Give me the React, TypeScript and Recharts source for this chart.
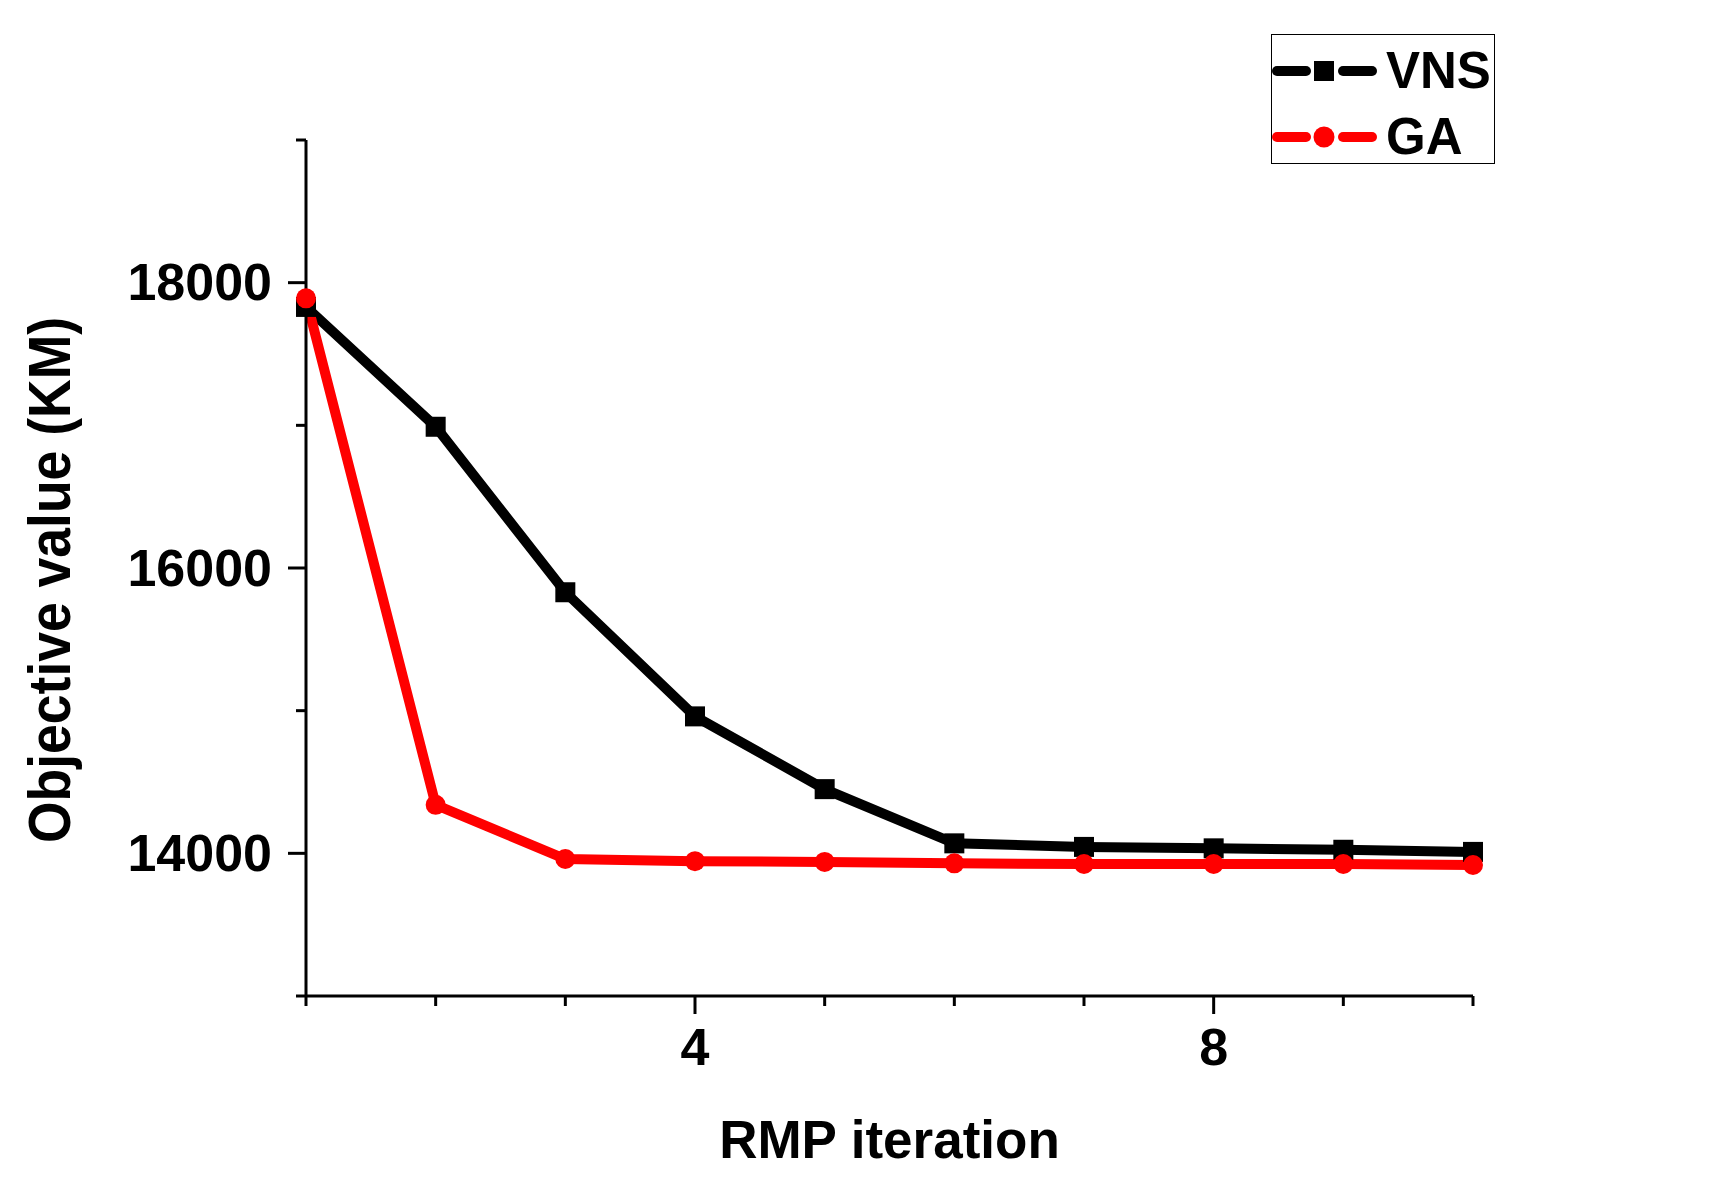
import React from 'react';
import { LineChart, Line, XAxis, YAxis, Legend } from 'recharts';

// RMP iterations on the x axis
const iterations = [1, 2, 3, 4, 5, 6, 7, 8, 9, 10];

// objective values (KM)
const vnsValues = [17830, 16990, 15830, 14960, 14450, 14070, 14045, 14035, 14025, 14010];
const gaValues = [17890, 14340, 13960, 13945, 13940, 13930, 13925, 13925, 13925, 13918];

// axis ticks, only some of them carry a label
const xTicks = [1, 2, 3, 4, 5, 6, 7, 8, 9, 10];
const xLabelled = [4, 8];
const yTicks = [13000, 14000, 15000, 16000, 17000, 18000, 19000];
const yLabelled = [14000, 16000, 18000];

const seriesNames = ['VNS', 'GA'];
const seriesColors = ['#000000', '#ff0000'];

const FONT = '"Liberation Sans", Arial, Helvetica, sans-serif';

const chartData = iterations.map((it, i) => ({
  iteration: it,
  vns: vnsValues[i],
  ga: gaValues[i],
}));

const XTick = (props: any) => {
  const { x, y, payload } = props;
  const major = xLabelled.includes(payload.value);
  return (
    <g>
      <line x1={x} x2={x} y1={y} y2={y + (major ? 18 : 10)} stroke="#000" strokeWidth={3} />
      {major && (
        <text x={x} y={y + 32} dy="0.71em" textAnchor="middle" fill="#000"
          fontFamily={FONT} fontWeight="bold" fontSize={52}>
          {payload.value}
        </text>
      )}
    </g>
  );
};

const YTick = (props: any) => {
  const { x, y, payload } = props;
  const major = yLabelled.includes(payload.value);
  return (
    <g>
      <line x1={x - (major ? 18 : 10)} x2={x} y1={y} y2={y} stroke="#000" strokeWidth={3} />
      {major && (
        <text x={x - 34} y={y} dy="0.34em" textAnchor="end" fill="#000"
          fontFamily={FONT} fontWeight="bold" fontSize={52}>
          {payload.value}
        </text>
      )}
    </g>
  );
};

const SquareDot = (props: any) => {
  const { cx, cy, index } = props;
  if (cx == null || cy == null) return null;
  return <rect key={`vns-dot-${index}`} x={cx - 10} y={cy - 10} width={20} height={20} fill="#000" />;
};

// legend box like the Origin one: line, marker, bold name
const renderLegend = () => (
  <div style={{
    width: 224, height: 130, boxSizing: 'border-box', border: '1.5px solid #000',
    background: '#fff', paddingTop: 3,
  }}>
    {seriesNames.map((name, i) => (
      <div key={name} style={{ display: 'flex', alignItems: 'center', height: 66 }}>
        <svg width={105} height={30} style={{ display: 'block' }}>
          <line x1={5} x2={34} y1={15} y2={15} stroke={seriesColors[i]} strokeWidth={10} strokeLinecap="round" />
          <line x1={71} x2={100} y1={15} y2={15} stroke={seriesColors[i]} strokeWidth={10} strokeLinecap="round" />
          {i === 0
            ? <rect x={42} y={5} width={20} height={20} fill={seriesColors[i]} />
            : <circle cx={52} cy={15} r={10.5} fill={seriesColors[i]} />}
        </svg>
        <span style={{
          marginLeft: 9, fontFamily: FONT, fontWeight: 'bold', fontSize: 51,
          color: '#000', lineHeight: '66px',
        }}>{name}</span>
      </div>
    ))}
  </div>
);

export default function App() {
  return (
    <div style={{ position: 'absolute', left: 0, top: 0, width: 1710, height: 1194, background: '#fff' }}>
      <LineChart
        width={1710}
        height={1194}
        data={chartData}
        margin={{ top: 140, right: 237, bottom: 98, left: 106 }}
      >
        <XAxis
          dataKey="iteration"
          type="number"
          domain={[1, 10]}
          ticks={xTicks}
          interval={0}
          height={100}
          tickSize={0}
          tickMargin={0}
          tickLine={false}
          axisLine={{ stroke: '#000', strokeWidth: 3 }}
          tick={<XTick />}
          label={{
            content: ({ viewBox }: any) => (
              <text x={viewBox.x + viewBox.width / 2} y={viewBox.y + 162} textAnchor="middle"
                fill="#000" fontFamily={FONT} fontWeight="bold" fontSize={53}>
                RMP iteration
              </text>
            ),
          }}
        />
        <YAxis
          type="number"
          domain={[13000, 19000]}
          ticks={yTicks}
          interval={0}
          width={200}
          tickSize={0}
          tickMargin={0}
          tickLine={false}
          axisLine={{ stroke: '#000', strokeWidth: 3 }}
          tick={<YTick />}
          label={{
            content: ({ viewBox }: any) => {
              const cx = viewBox.x - 58;
              const cy = viewBox.y + viewBox.height / 2 + 12;
              return (
                <text x={cx} y={cy} transform={`rotate(-90, ${cx}, ${cy})`} textAnchor="middle"
                  dy="0.36em" fill="#000" fontFamily={FONT} fontWeight="bold" fontSize={60}
                  textLength={526} lengthAdjust="spacingAndGlyphs">
                  Objective value (KM)
                </text>
              );
            },
          }}
        />
        <Legend
          layout="horizontal"
          verticalAlign="middle"
          align="center"
          content={renderLegend}
          wrapperStyle={{ left: 1271, top: 34, width: 224, height: 130 }}
        />
        <Line
          type="linear"
          dataKey="vns"
          name={seriesNames[0]}
          stroke={seriesColors[0]}
          strokeWidth={10}
          dot={SquareDot}
          activeDot={false}
          isAnimationActive={false}
        />
        <Line
          type="linear"
          dataKey="ga"
          name={seriesNames[1]}
          stroke={seriesColors[1]}
          strokeWidth={10}
          dot={{ r: 10, fill: seriesColors[1], stroke: 'none', strokeWidth: 0 }}
          activeDot={false}
          isAnimationActive={false}
        />
      </LineChart>
    </div>
  );
}
